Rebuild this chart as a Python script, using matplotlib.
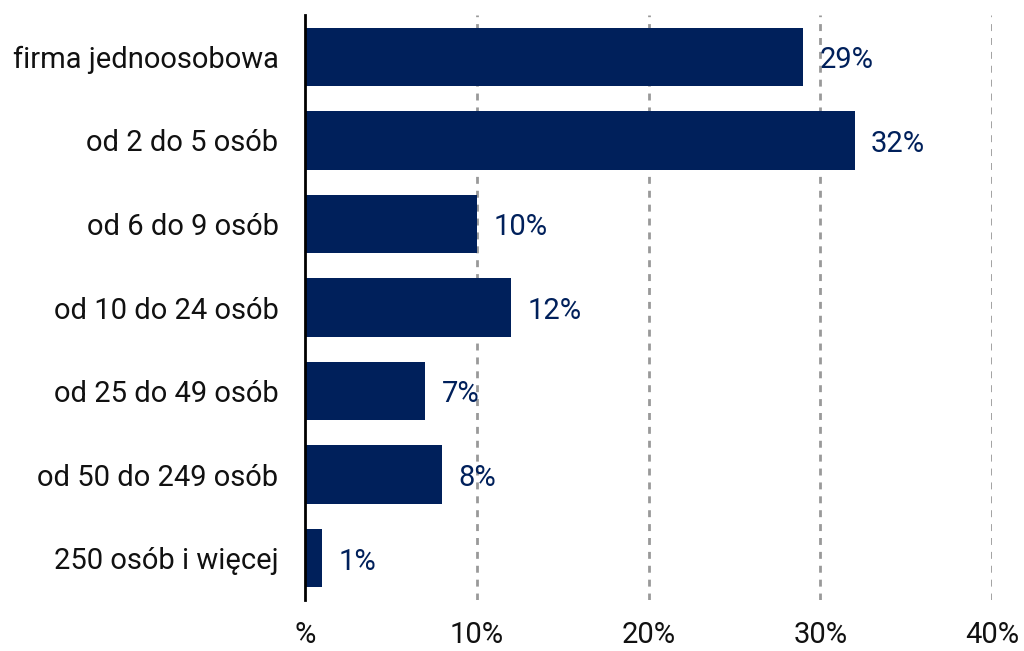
import matplotlib
matplotlib.use('Agg')
import matplotlib.pyplot as plt

categories = ['firma jednoosobowa', 'od 2 do 5 osób', 'od 6 do 9 osób', 'od 10 do 24 osób',
              'od 25 do 49 osób', 'od 50 do 249 osób', '250 osób i więcej']
values = [29, 32, 10, 12, 7, 8, 1]
xticks = [0, 10, 20, 30, 40]
xtick_labels = ['%', '10%', '20%', '30%', '40%']

navy = '#00205B'
plt.rcParams['font.family'] = ['Roboto', 'DejaVu Sans']

fig = plt.figure(figsize=(10.24, 6.51), dpi=100)
ax = fig.add_axes([305 / 1024, 51 / 651, 687 / 1024, 585 / 651])

y = list(range(len(categories)))
ax.barh(y, values, height=0.7, color=navy, zorder=2)
for yi, v in zip(y, values):
    ax.text(v + 0.95, yi + 0.04, f'{v}%', va='center', ha='left', fontsize=21, color=navy, zorder=3)

ax.set_xlim(0, 40)
ax.set_ylim(6.5, -0.5)
ax.set_yticks(y)
ax.set_yticklabels(categories, fontsize=21, color='#111111')
ax.set_xticks(xticks)
ax.set_xticklabels(xtick_labels, fontsize=21, color='#111111')
ax.tick_params(axis='both', length=0)
ax.tick_params(axis='y', pad=19)
ax.tick_params(axis='x', pad=15)

for x in xticks[1:]:
    ax.axvline(x, color='#999999', linestyle=(0, (2.5, 2.5)), linewidth=2, zorder=1)

for s in ['top', 'right', 'bottom']:
    ax.spines[s].set_visible(False)
ax.spines['left'].set_linewidth(2)
ax.spines['left'].set_color('black')
ax.spines['left'].set_zorder(4)

fig.savefig('out.png', dpi=100)
